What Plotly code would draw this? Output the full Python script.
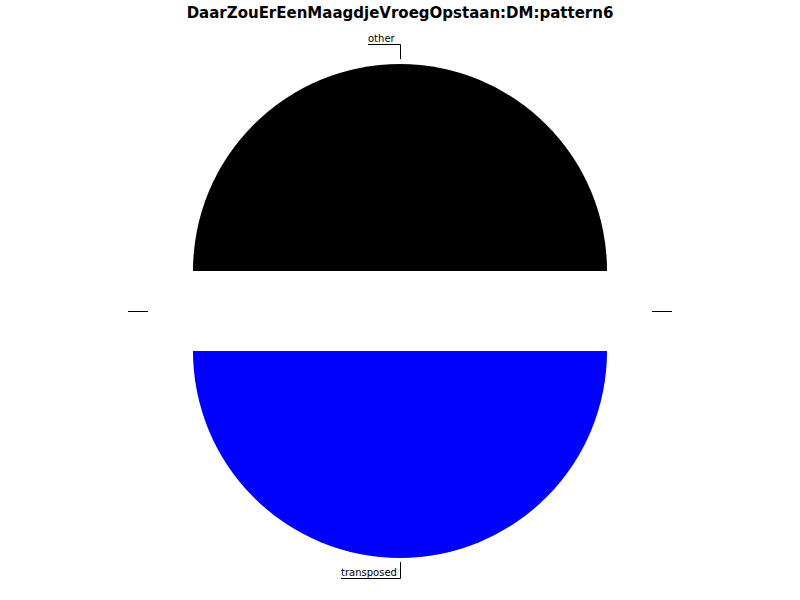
import plotly.graph_objects as go

# Data
labels = ["other", "transposed"]
values = [50, 50]
colors = ["#000000", "#0000ff"]
title_text = "DaarZouErEenMaagdjeVroegOpstaan:DM:pattern6"

W, H = 800, 600
M_T, M_B = 64, 42
PULL = 0.193


def px(x, y):
    """screen pixel -> paper coords for the plot area"""
    return x / W, (H - M_B - y) / (H - M_T - M_B)


fig = go.Figure(
    go.Pie(
        labels=labels,
        values=values,
        marker=dict(colors=colors, line=dict(width=0)),
        sort=False,
        direction="counterclockwise",
        rotation=-90,
        pull=[PULL, PULL],
        textinfo="none",
        hoverinfo="label+value",
        showlegend=False,
    )
)

shapes = []
annotations = []


def seg(x0, y0, x1, y1):
    a = px(x0, y0)
    b = px(x1, y1)
    shapes.append(dict(type="line", xref="paper", yref="paper",
                       x0=a[0], y0=a[1], x1=b[0], y1=b[1],
                       line=dict(color="black", width=1)))


# leader lines
seg(368, 44.5, 400.5, 44.5)
seg(400.5, 44.5, 400.5, 59)
seg(341, 578.5, 400.5, 578.5)
seg(400.5, 578.5, 400.5, 562)
seg(128, 311.5, 148, 311.5)
seg(652, 311.5, 672, 311.5)

for txt, (x, y) in zip(labels, [(366, 38), (339, 572)]):
    xp, yp = px(x, y)
    annotations.append(dict(text=txt, x=xp, y=yp, xref="paper", yref="paper",
                            xanchor="left", yanchor="middle", showarrow=False,
                            font=dict(family="DejaVu Sans", size=10, color="black")))

fig.update_layout(
    width=W, height=H,
    margin=dict(l=0, r=0, t=M_T, b=M_B),
    paper_bgcolor="white", plot_bgcolor="white",
    title=dict(text=title_text, x=0.5, xanchor="center", y=1 - 13 / H, yanchor="middle",
               font=dict(family="DejaVu Sans", size=15, color="black", weight="bold")),
    shapes=shapes,
    annotations=annotations,
)

fig.write_html("out.html", config={"displayModeBar": False},
               post_script="document.body.style.margin='0';")
